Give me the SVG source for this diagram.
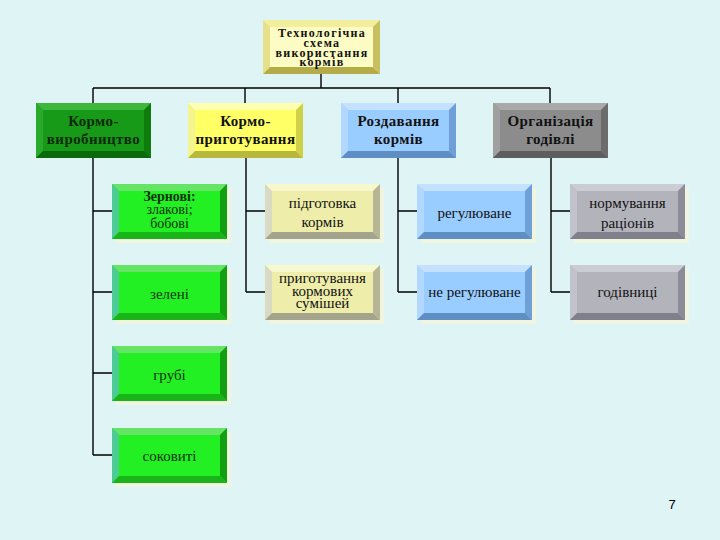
<svg xmlns="http://www.w3.org/2000/svg" width="720" height="540" viewBox="0 0 720 540">
<style>
.bg{fill:#DFF4F4}
.wire{stroke:#000;stroke-width:1.4;fill:none}
.sh{fill:#F2F5D8;opacity:0.8}
text{font-family:"Liberation Serif","DejaVu Serif",serif;text-anchor:middle;fill:#111}
.b{font-weight:bold}
.h1{font-size:15px;font-weight:bold;letter-spacing:0.4px}
.h2{font-size:15px}
.tt{font-size:12px;font-weight:bold;letter-spacing:1.3px}
.m{fill:var(--m)}.ft{fill:var(--t)}.fl{fill:var(--l)}.fr{fill:var(--r)}.fb{fill:var(--b)}
.dg text{fill:#0F2A0F}
.bg2 text{fill:#123012}
.top{--m:#FCFCC4;--t:#F2EE9C;--l:#E6E08A;--r:#C8C060;--b:#B4AC48}
.dg{--m:#179A17;--t:#3DB83D;--l:#2AAA2A;--r:#0D7C0D;--b:#0A6A0A}
.ye{--m:#FFFF66;--t:#FFFFB0;--l:#F4F490;--r:#CFCF48;--b:#B8B83C}
.bl{--m:#99CCFF;--t:#C4E2FF;--l:#B2D8FF;--r:#6E9FD6;--b:#5F8EC4}
.gr{--m:#8C8C8C;--t:#A9A9A9;--l:#A0A0A0;--r:#6C6C6C;--b:#5E5E5E}
.bg2{--m:#22F022;--t:#66E466;--l:#4CCB94;--r:#12A012;--b:#18B418}
.py{--m:#EEEEAA;--t:#F8F8CE;--l:#DADAC4;--r:#B6B696;--b:#A4A48C}
.lg{--m:#B3B3BB;--t:#CCCCD4;--l:#C2C2CC;--r:#8C8C98;--b:#80808C}
</style>
<defs>
<g id="bev">
<rect class="m" x="0" y="0" width="115" height="55"/>
<polygon class="ft" points="0,0 115,0 108,7 7,7"/>
<polygon class="fl" points="0,0 7,7 7,48 0,55"/>
<polygon class="fr" points="115,0 115,55 108,48 108,7"/>
<polygon class="fb" points="0,55 7,48 108,48 115,55"/>
</g>
</defs>
<rect class="bg" x="0" y="0" width="720" height="540"/>

<g id="connectors">
<path class="wire" d="M321,74 V88 M93,88 H550 M93,88 V103 M245,88 V103 M398,88 V103 M550,88 V103"/>
<path class="wire" d="M93,158 V455 M93,211 H112 M93,292 H112 M93,373 H112 M93,455 H112"/>
<path class="wire" d="M246,158 V292 M246,211 H265 M246,292 H265"/>
<path class="wire" d="M398,158 V292 M398,211 H417 M398,292 H417"/>
<path class="wire" d="M551,158 V292 M551,211 H570 M551,292 H570"/>
</g>

<g id="n0" class="top">
<rect class="m" x="263" y="20" width="117" height="54"/>
<polygon class="ft" points="263,20 380,20 373,27 270,27"/>
<polygon class="fl" points="263,20 270,27 270,67 263,74"/>
<polygon class="fr" points="380,20 380,74 373,67 373,27"/>
<polygon class="fb" points="263,74 270,67 373,67 380,74"/>
<text class="tt" x="322" y="37">Технологічна</text>
<text class="tt" x="322" y="47">схема</text>
<text class="tt" x="322" y="56.5">використання</text>
<text class="tt" x="322" y="66">кормів</text>
</g>

<g id="n1" class="dg" transform="translate(36,103)">
<use href="#bev"/>
<text class="h1" x="57.5" y="23">Кормо-</text>
<text class="h1" x="57.5" y="41">виробництво</text>
</g>
<g id="n2" class="ye" transform="translate(188,103)">
<use href="#bev"/>
<text class="h1" x="57.5" y="23">Кормо-</text>
<text class="h1" x="57.5" y="41">приготування</text>
</g>
<g id="n3" class="bl" transform="translate(341,103)">
<use href="#bev"/>
<text class="h1" x="57.5" y="23">Роздавання</text>
<text class="h1" x="57.5" y="41">кормів</text>
</g>
<g id="n4" class="gr" transform="translate(493,103)">
<use href="#bev"/>
<text class="h1" x="57.5" y="23">Організація</text>
<text class="h1" x="57.5" y="41">годівлі</text>
</g>

<g id="g1" class="bg2" transform="translate(112,184)">
<rect class="sh" x="4" y="4" width="115" height="55"/>
<use href="#bev"/>
<text class="b" font-size="14" x="57.5" y="17">Зернові:</text>
<text font-size="14" x="57.5" y="30">злакові;</text>
<text font-size="14" x="57.5" y="44">бобові</text>
</g>
<g id="g2" class="bg2" transform="translate(112,265)">
<rect class="sh" x="4" y="4" width="115" height="55"/>
<use href="#bev"/>
<text class="h2" x="57.5" y="34">зелені</text>
</g>
<g id="g3" class="bg2" transform="translate(112,346)">
<rect class="sh" x="4" y="4" width="115" height="55"/>
<use href="#bev"/>
<text class="h2" x="57.5" y="34">грубі</text>
</g>
<g id="g4" class="bg2" transform="translate(112,428)">
<rect class="sh" x="4" y="4" width="115" height="55"/>
<use href="#bev"/>
<text class="h2" x="57.5" y="33">соковиті</text>
</g>

<g id="p1" class="py" transform="translate(265,184)">
<rect class="sh" x="4" y="4" width="115" height="55"/>
<use href="#bev"/>
<text class="h2" x="57.5" y="24">підготовка</text>
<text class="h2" x="57.5" y="43">кормів</text>
</g>
<g id="p2" class="py" transform="translate(265,265)">
<rect class="sh" x="4" y="4" width="115" height="55"/>
<use href="#bev"/>
<text class="h2" x="57.5" y="18">приготування</text>
<text class="h2" x="57.5" y="30.5">кормових</text>
<text class="h2" x="57.5" y="43">сумішей</text>
</g>

<g id="b1" class="bl" transform="translate(417,184)">
<rect class="sh" x="4" y="4" width="115" height="55"/>
<use href="#bev"/>
<text class="h2" x="57.5" y="34">регулюване</text>
</g>
<g id="b2" class="bl" transform="translate(417,265)">
<rect class="sh" x="4" y="4" width="115" height="55"/>
<use href="#bev"/>
<text class="h2" x="57.5" y="32">не регулюване</text>
</g>

<g id="r1" class="lg" transform="translate(570,184)">
<rect class="sh" x="4" y="4" width="115" height="55"/>
<use href="#bev"/>
<text class="h2" x="57.5" y="24">нормування</text>
<text class="h2" x="57.5" y="44">раціонів</text>
</g>
<g id="r2" class="lg" transform="translate(570,265)">
<rect class="sh" x="4" y="4" width="115" height="55"/>
<use href="#bev"/>
<text class="h2" x="57.5" y="32">годівниці</text>
</g>

<text x="672" y="509" style="font-family:'Liberation Sans',Arial,sans-serif;font-size:13px;fill:#000">7</text>
</svg>
